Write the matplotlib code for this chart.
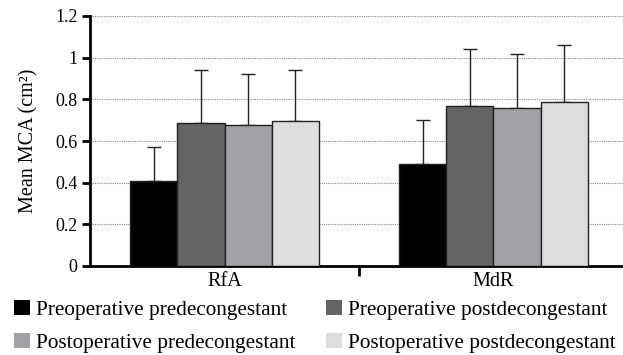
import matplotlib
matplotlib.use("Agg")
import matplotlib.pyplot as plt
from matplotlib.patches import Patch
import numpy as np

categories = ["RfA", "MdR"]
series = ["Preoperative predecongestant", "Preoperative postdecongestant",
          "Postoperative predecongestant", "Postoperative postdecongestant"]
means = [
    [0.41, 0.49],
    [0.685, 0.768],
    [0.675, 0.758],
    [0.698, 0.787],
]
err_top = [
    [0.57, 0.703],
    [0.94, 1.04],
    [0.922, 1.02],
    [0.939, 1.063],
]
colors = ["#000000", "#636466", "#a0a1a4", "#dcdddf"]

plt.rcParams['font.family'] = ['Liberation Serif', 'DejaVu Serif']

fig = plt.figure(figsize=(6.23, 3.55), dpi=100)
ax = fig.add_axes([90/623, 1-266/355, (628-90)/623, (266-16)/355])

x = np.arange(len(categories))
w = 0.175
for i in range(4):
    pos = x + (i - 1.5) * w
    ax.bar(pos, means[i], width=w, color=colors[i], edgecolor="#222222",
           linewidth=1.0, zorder=3)
    err = np.array(err_top[i]) - np.array(means[i])
    ax.errorbar(pos, means[i], yerr=[np.zeros_like(err), err], fmt="none",
                ecolor="#222222", elinewidth=1.0, capsize=5, capthick=1.0, zorder=2)

ax.set_xlim(-0.5, 1.5)
ax.set_ylim(0, 1.2)
ax.set_yticks([0, 0.2, 0.4, 0.6, 0.8, 1.0, 1.2])
ax.set_yticklabels(["0", "0.2", "0.4", "0.6", "0.8", "1", "1.2"], fontsize=13)
ax.yaxis.grid(True, linestyle=(0, (1, 1)), color="#888888", linewidth=0.8, zorder=0)
ax.set_axisbelow(True)

ax.set_xticks(x)
ax.set_xticklabels(categories, fontsize=14.5)
ax.tick_params(axis="x", length=0, pad=4)
ax.set_xticks([0.5], minor=True)
ax.tick_params(axis="x", which="minor", length=7, width=2, direction="out")
ax.tick_params(axis="y", length=6, width=2, direction="out", pad=3)

for s in ["top", "right"]:
    ax.spines[s].set_visible(False)
ax.spines["left"].set_linewidth(2)
ax.spines["bottom"].set_linewidth(2)

ax.set_ylabel("Mean MCA (cm²)", fontsize=14.5)
ax.yaxis.set_label_coords(-0.095, 0.5)

handles = [Patch(facecolor=c, edgecolor="none") for c in colors]
order = [0, 2, 1, 3]
fig.legend([handles[k] for k in order], [series[k] for k in order],
           loc="upper left", bbox_to_anchor=(14/623, 1 - 300/355), ncol=2,
           fontsize=15.3, frameon=False, handlelength=0.74, handleheight=0.74,
           handletextpad=0.28, columnspacing=1.45, labelspacing=0.6,
           borderaxespad=0.0, borderpad=0.0)

fig.savefig("out.png", dpi=100)
